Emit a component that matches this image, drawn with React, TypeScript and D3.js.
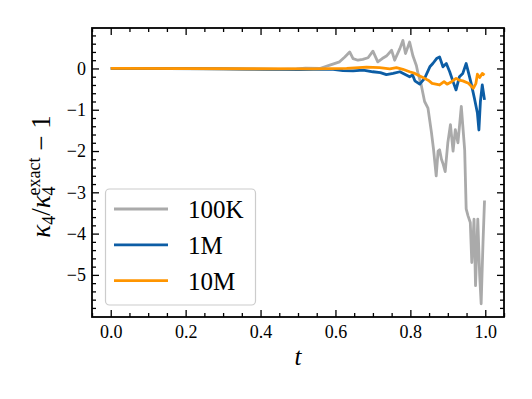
import React, { useEffect, useRef } from 'react'
import * as d3 from 'd3'

// (t, value) pairs
const t100K = [0, 0.185, 0.3, 0.363, 0.42, 0.452, 0.496, 0.52, 0.558, 0.585, 0.611, 0.625, 0.638, 0.647, 0.66, 0.673, 0.687, 0.7, 0.713, 0.725, 0.736, 0.75, 0.758, 0.772, 0.78, 0.787, 0.798, 0.807, 0.816, 0.82, 0.829, 0.838, 0.847, 0.856, 0.862, 0.869, 0.874, 0.878, 0.883, 0.887, 0.893, 0.9, 0.907, 0.914, 0.92, 0.927, 0.936, 0.945, 0.949, 0.954, 0.96, 0.964, 0.97, 0.974, 0.98, 0.985, 0.989, 0.994, 0.998]
const v100K = [0, 0, -0.01, -0.02, -0.03, -0.02, -0.01, 0.01, 0, 0.08, 0.16, 0.28, 0.4, 0.24, 0.2, 0.22, 0.26, 0.42, 0.16, 0.24, 0.3, 0.44, 0.2, 0.48, 0.68, 0.36, 0.64, 0.3, 0.07, -0.1, -0.4, -0.8, -0.96, -1.53, -1.97, -2.6, -2.0, -1.97, -2.2, -2.3, -2.5, -1.8, -1.36, -2.0, -1.48, -1.8, -0.92, -1.97, -3.4, -3.57, -3.73, -4.7, -3.65, -5.26, -3.65, -5.0, -5.7, -4.2, -3.2]

const t1M = [0, 0.3, 0.45, 0.5, 0.54, 0.594, 0.62, 0.647, 0.674, 0.7, 0.72, 0.736, 0.754, 0.772, 0.785, 0.798, 0.806, 0.812, 0.825, 0.838, 0.852, 0.86, 0.87, 0.878, 0.887, 0.896, 0.905, 0.914, 0.922, 0.931, 0.94, 0.949, 0.953, 0.962, 0.971, 0.979, 0.983, 0.987, 0.992, 0.998]
const v1M = [0, -0.01, -0.02, -0.03, -0.02, -0.02, -0.05, -0.06, -0.04, -0.08, -0.1, -0.15, -0.12, -0.08, -0.14, -0.2, -0.16, -0.3, -0.38, -0.24, 0.04, 0.12, 0.24, 0.28, 0.04, 0.12, -0.08, -0.32, -0.52, -0.2, -0.12, 0.12, -0.02, -0.35, -0.72, -1.08, -1.49, -0.8, -0.4, -0.76]

const t10M = [0, 0.54, 0.63, 0.683, 0.718, 0.745, 0.763, 0.78, 0.798, 0.812, 0.825, 0.838, 0.85, 0.858, 0.878, 0.89, 0.898, 0.91, 0.922, 0.93, 0.94, 0.955, 0.968, 0.975, 0.979, 0.985, 0.992, 0.998]
const v10M = [0, -0.01, 0, 0.03, 0.02, -0.01, 0.02, -0.02, -0.08, -0.12, -0.18, -0.24, -0.3, -0.36, -0.4, -0.32, -0.38, -0.32, -0.24, -0.28, -0.3, -0.36, -0.48, -0.36, -0.14, -0.22, -0.12, -0.16]

const seriesNames = ['100K', '1M', '10M']
const seriesColors = ['#aaaaaa', '#0C5DA5', '#FF9500']
const xTicks = [0, 0.2, 0.4, 0.6, 0.8, 1.0]
const yTicks = [0, -1, -2, -3, -4, -5]

const App = () => {
  const ref = useRef<SVGSVGElement>(null)

  useEffect(() => {
    const svg = d3.select(ref.current)
    svg.selectAll('*').remove()

    const left = 92, right = 504, top = 28, bottom = 317
    const font = '"Liberation Serif", "DejaVu Serif", serif'

    const x = d3.scaleLinear().domain([-0.05, 1.05]).range([left, right])
    const y = d3.scaleLinear().domain([-6.02, 0.98]).range([bottom, top])

    const series = [
      t100K.map((t, i) => [t, v100K[i]]),
      t1M.map((t, i) => [t, v1M[i]]),
      t10M.map((t, i) => [t, v10M[i]]),
    ]

    const line = d3
      .line<number[]>()
      .x(d => x(d[0]))
      .y(d => y(d[1]))

    const plot = svg.append('g')
    series.forEach((s, i) => {
      plot
        .append('path')
        .attr('d', line(s))
        .attr('fill', 'none')
        .attr('stroke', seriesColors[i])
        .attr('stroke-width', 2.8)
        .attr('stroke-linejoin', 'round')
    })

    const xMinor = d3.range(-0.05, 1.051, 0.05).filter(v => Math.abs(Math.round(v * 5) - v * 5) > 0.01)
    const yMinor = d3.range(-6, 0.99, 0.2).filter(v => Math.abs(Math.round(v) - v) > 0.01)

    const styleAxis = (g: any) => {
      g.select('.domain').remove()
      g.selectAll('line').attr('stroke', '#000').attr('stroke-width', 1.3)
      g.selectAll('text').attr('font-family', font).attr('font-size', 18).attr('fill', '#000')
    }

    // major + minor ticks, inward, all four sides
    svg.append('g').attr('transform', `translate(0,${bottom})`)
      .call(d3.axisBottom(x).tickValues(xTicks).tickSize(-7).tickSizeOuter(0).tickPadding(8).tickFormat(d3.format('.1f')))
      .call(styleAxis)
    svg.append('g').attr('transform', `translate(0,${bottom})`)
      .call(d3.axisBottom(x).tickValues(xMinor).tickSize(-4).tickSizeOuter(0).tickFormat(() => ''))
      .call(styleAxis)
    svg.append('g').attr('transform', `translate(0,${top})`)
      .call(d3.axisTop(x).tickValues(xTicks).tickSize(-7).tickSizeOuter(0).tickFormat(() => ''))
      .call(styleAxis)
    svg.append('g').attr('transform', `translate(0,${top})`)
      .call(d3.axisTop(x).tickValues(xMinor).tickSize(-4).tickSizeOuter(0).tickFormat(() => ''))
      .call(styleAxis)

    svg.append('g').attr('transform', `translate(${left},0)`)
      .call(d3.axisLeft(y).tickValues(yTicks).tickSize(-7).tickSizeOuter(0).tickPadding(6).tickFormat(d3.format('d')))
      .call(styleAxis)
    svg.append('g').attr('transform', `translate(${left},0)`)
      .call(d3.axisLeft(y).tickValues(yMinor).tickSize(-4).tickSizeOuter(0).tickFormat(() => ''))
      .call(styleAxis)
    svg.append('g').attr('transform', `translate(${right},0)`)
      .call(d3.axisRight(y).tickValues(yTicks).tickSize(-7).tickSizeOuter(0).tickFormat(() => ''))
      .call(styleAxis)
    svg.append('g').attr('transform', `translate(${right},0)`)
      .call(d3.axisRight(y).tickValues(yMinor).tickSize(-4).tickSizeOuter(0).tickFormat(() => ''))
      .call(styleAxis)

    svg
      .append('rect') // frame
      .attr('x', left)
      .attr('y', top)
      .attr('width', right - left)
      .attr('height', bottom - top)
      .attr('fill', 'none')
      .attr('stroke', '#000')
      .attr('stroke-width', 1.8)

    // legend
    const legend = svg.append('g')
    legend
      .append('rect')
      .attr('x', 105.5)
      .attr('y', 189)
      .attr('width', 150)
      .attr('height', 116)
      .attr('rx', 4)
      .attr('fill', 'white')
      .attr('fill-opacity', 0.8)
      .attr('stroke', '#cccccc')
      .attr('stroke-width', 1.2)
    seriesNames.forEach((name, i) => {
      const ly = 209 + i * 35.8
      legend
        .append('line')
        .attr('x1', 114)
        .attr('x2', 168)
        .attr('y1', ly)
        .attr('y2', ly)
        .attr('stroke', seriesColors[i])
        .attr('stroke-width', 2.8)
      legend
        .append('text')
        .attr('x', 188)
        .attr('y', ly + 9)
        .attr('font-family', font)
        .attr('font-size', 25)
        .text(name)
    })

    svg
      .append('text') // x label
      .attr('x', (left + right) / 2)
      .attr('y', 365)
      .attr('text-anchor', 'middle')
      .attr('font-family', font)
      .attr('font-style', 'italic')
      .attr('font-size', 25)
      .text('t')

    const yl = svg
      .append('text') // y label
      .attr('transform', `translate(50,${(top + bottom) / 2 + 4}) rotate(-90)`)
      .attr('text-anchor', 'middle')
      .attr('font-family', font)
      .attr('font-size', 27)
    yl.append('tspan').attr('font-style', 'italic').text('κ')
    yl.append('tspan').attr('font-size', 18).attr('dy', 5).text('4')
    yl.append('tspan').attr('dy', -5).text('/')
    yl.append('tspan').attr('font-style', 'italic').text('κ')
    yl.append('tspan').attr('font-size', 18).attr('dy', 5).text('4')
    yl.append('tspan').attr('font-size', 18).attr('dx', -9).attr('dy', -15).text('exact')
    yl.append('tspan').attr('dy', 10).text(' − 1')
  }, [])

  return <svg ref={ref} width={532} height={399} style={{ display: 'block', margin: '-8px' }} />
}

export default App
